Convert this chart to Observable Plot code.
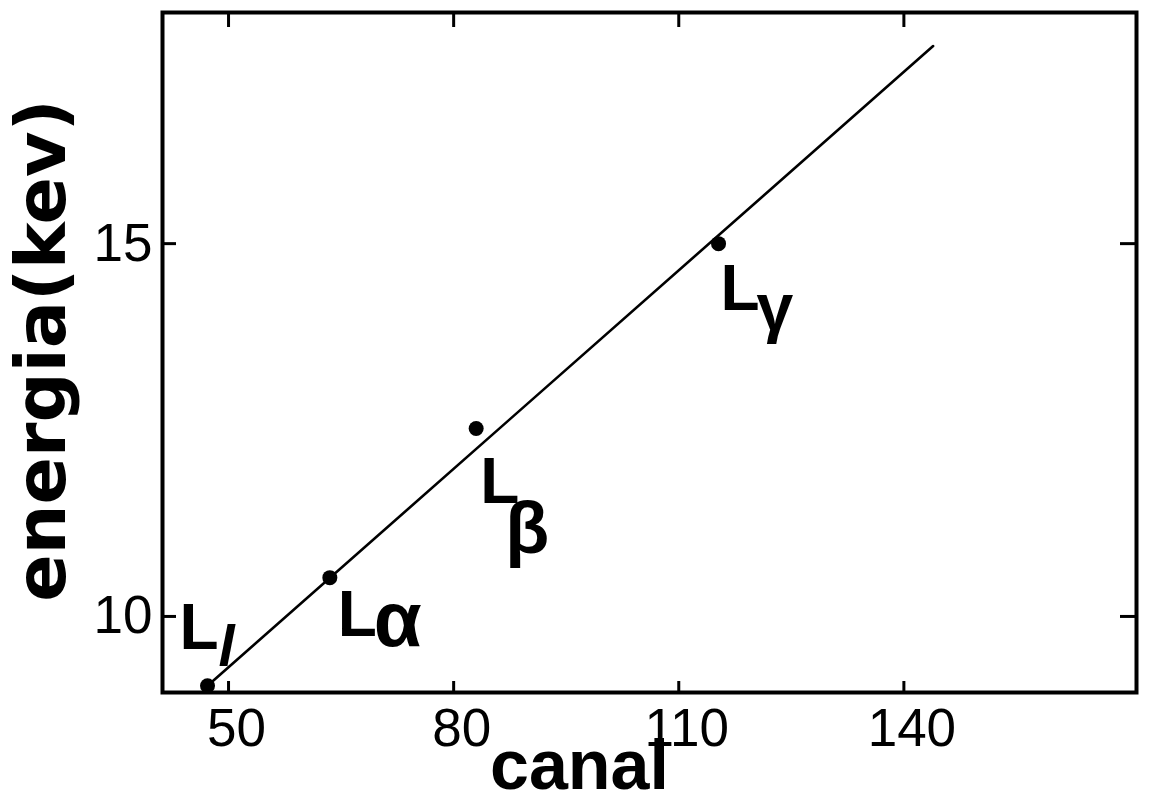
<!DOCTYPE html>
<html>
<head>
<meta charset="utf-8">
<script src="https://cdn.jsdelivr.net/npm/d3@7"></script>
<script src="https://cdn.jsdelivr.net/npm/@observablehq/plot@0.6"></script>
<style>
  html, body { margin: 0; padding: 0; background: #fff; }
  #chart svg { display: block; }
</style>
</head>
<body>
<div id="chart"></div>
<script>
// Calibration of the detector: channel number against X-ray line energy
const lines    = ["Ll", "Lα", "Lβ", "Lγ"];
const subs     = ["l", "α", "β", "γ"];
const canal    = [47.2, 63.5, 83.0, 115.3];
const energia  = [9.07, 10.52, 12.52, 15.0];

// straight calibration line
const fitCanal   = [47.2, 143.9];
const fitEnergia = [9.07, 17.65];

const xTicks = [50, 80, 110, 140];
const yTicks = [10, 15];
const xDomain = [41.2, 171.0];
const yDomain = [8.98, 18.1];

const W = 1149, H = 798;
const mL = 162, mR = 13, mT = 12, mB = 106;
const innerW = W - mL - mR, innerH = H - mT - mB;

const font = "'Liberation Sans', Arial, Helvetica, sans-serif";
const ink = "#000";

// label offsets (px) for "L" and its subscript, relative to each point
const labelLayout = [
  {L: [-28, -37], s: [11, -20], sSize: 58, italic: true},
  {L: [8, 58],    s: [44, 68],  sSize: 78},
  {L: [4, 74],    s: [29, 124], sSize: 72},
  {L: [2, 66],    s: [38, 86],  sSize: 66}
];

const labelMarks = [];
lines.forEach((name, i) => {
  const lay = labelLayout[i];
  labelMarks.push(Plot.text([i], {
    x: i => canal[i], y: i => energia[i], text: () => "L",
    dx: lay.L[0], dy: lay.L[1], textAnchor: "start", lineAnchor: "bottom",
    fontSize: 64, fontWeight: "bold", fontFamily: font, fill: ink
  }));
  labelMarks.push(Plot.text([i], {
    x: i => canal[i], y: i => energia[i], text: i => subs[i],
    dx: lay.s[0], dy: lay.s[1], textAnchor: "start", lineAnchor: "bottom",
    fontSize: lay.sSize, fontWeight: "bold", fontFamily: font, fill: ink,
    fontStyle: lay.italic ? "italic" : "normal"
  }));
});

const chart = Plot.plot({
  width: W,
  height: H,
  marginLeft: mL, marginRight: mR, marginTop: mT, marginBottom: mB,
  style: {fontFamily: font, background: "#fff", color: ink},
  x: {domain: xDomain},
  y: {domain: yDomain},
  marks: [
    Plot.frame({stroke: ink, strokeWidth: 4}),
    // inward ticks on all four sides
    Plot.ruleX(xTicks, {x: d => d, insetTop: innerH - 11, stroke: ink, strokeWidth: 3}),
    Plot.ruleX(xTicks, {x: d => d, insetBottom: innerH - 15, stroke: ink, strokeWidth: 3}),
    Plot.ruleY(yTicks, {y: d => d, insetRight: innerW - 14, stroke: ink, strokeWidth: 3}),
    Plot.ruleY(yTicks, {y: d => d, insetLeft: innerW - 16, stroke: ink, strokeWidth: 3}),
    Plot.axisX({ticks: xTicks, tickSize: 0, tickPadding: 16, label: null,
      fontSize: 53, fontFamily: font, dx: 8, fill: ink}),
    Plot.axisY({ticks: yTicks, tickSize: 0, tickPadding: 10, label: null,
      fontSize: 53, fontFamily: font, fill: ink}),
    Plot.line(fitCanal.map((c, i) => [c, fitEnergia[i]]), {
      x: d => d[0], y: d => d[1], stroke: ink, strokeWidth: 2.6
    }),
    Plot.dot(canal.map((c, i) => i), {
      x: i => canal[i], y: i => energia[i], r: 7.5, fill: ink, stroke: "none"
    }),
    ...labelMarks,
    Plot.text(["canal"], {
      frameAnchor: "bottom", dx: -70, dy: 96, lineAnchor: "bottom",
      fontSize: 70, fontWeight: "bold", fontFamily: font, fill: ink,
      letterSpacing: "-5px"
    }),
    Plot.text(["energia(kev)"], {
      frameAnchor: "left", rotate: -90, dx: -98, dy: -2,
      textAnchor: "middle", lineAnchor: "bottom",
      fontSize: 70, fontWeight: "bold", fontFamily: "'DejaVu Sans', sans-serif", fill: ink
    })
  ]
});

document.getElementById("chart").appendChild(chart);
</script>
</body>
</html>
